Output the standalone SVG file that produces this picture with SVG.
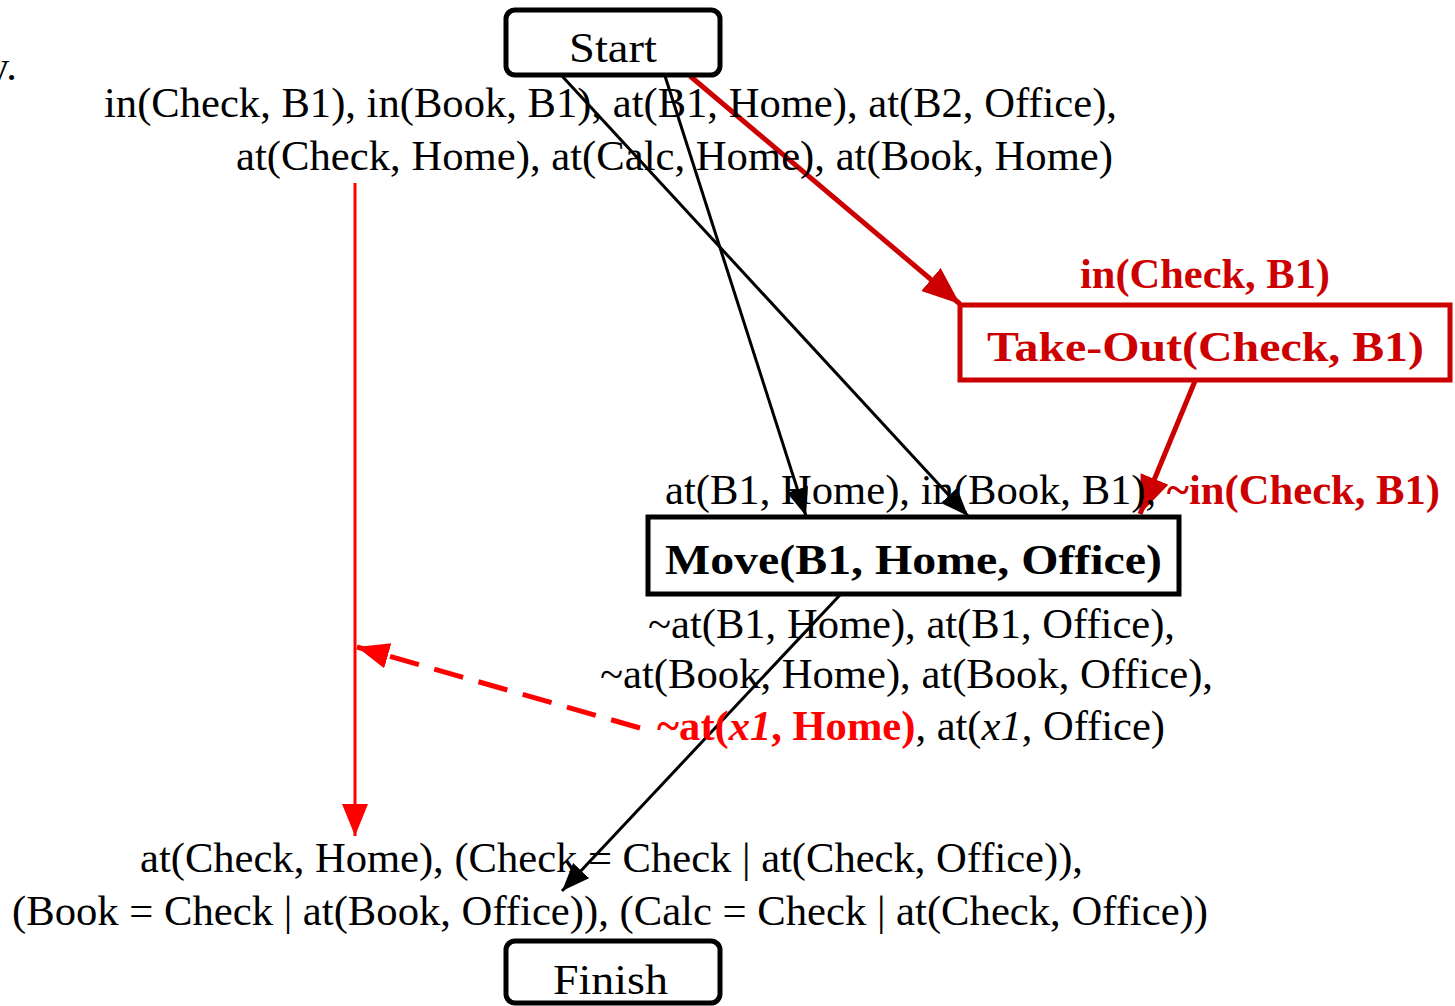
<svg xmlns="http://www.w3.org/2000/svg" width="1455" height="1006" viewBox="0 0 1455 1006">
<style>
text{font-family:"Liberation Serif","Times New Roman",serif;font-size:42.5px;fill:#000}
.b{font-weight:bold}
.dred{fill:#cc0000}
.red{fill:#ff0000}
.it{font-style:italic}
.node{fill:#fff;stroke-width:5}
</style>
<defs>
<marker id="ab" markerUnits="userSpaceOnUse" markerWidth="30" markerHeight="24" refX="28" refY="11" orient="auto"><path d="M0,0 L28,11 L0,22 z" fill="#000"/></marker>
<marker id="adr" markerUnits="userSpaceOnUse" markerWidth="40" markerHeight="32" refX="38" refY="15" orient="auto"><path d="M0,0 L38,15 L0,30 z" fill="#cc0000"/></marker>
<marker id="ar" markerUnits="userSpaceOnUse" markerWidth="34" markerHeight="28" refX="32" refY="13" orient="auto"><path d="M0,0 L32,13 L0,26 z" fill="#ff0000"/></marker>
</defs>
<rect width="1455" height="1006" fill="#fff"/>
<text x="17" y="80" text-anchor="end">y.</text>

<g id="connectors" fill="none">
<line x1="562" y1="76" x2="968" y2="516" stroke="#000" stroke-width="3" marker-end="url(#ab)"/>
<line x1="665" y1="76" x2="806" y2="516" stroke="#000" stroke-width="3" marker-end="url(#ab)"/>
<line x1="690" y1="76" x2="960" y2="304" stroke="#cc0000" stroke-width="5" marker-end="url(#adr)"/>
<line x1="1195" y1="381" x2="1140" y2="514" stroke="#cc0000" stroke-width="5" marker-end="url(#adr)"/>
<line x1="355" y1="183" x2="355" y2="836" stroke="#ff0000" stroke-width="3" marker-end="url(#ar)"/>
<line x1="640" y1="728" x2="357" y2="647" stroke="#ff0000" stroke-width="5" stroke-dasharray="30,16" marker-end="url(#ar)"/>
<line x1="840" y1="595" x2="562" y2="891" stroke="#000" stroke-width="3" marker-end="url(#ab)"/>
</g>

<g id="start">
<rect class="node" x="506" y="10" width="214" height="65" rx="9" stroke="#000"/>
<text x="569" y="62" font-size="53" textLength="88" lengthAdjust="spacingAndGlyphs">Start</text>
</g>
<g id="start-effects">
<text x="104" y="117" textLength="1013" lengthAdjust="spacingAndGlyphs">in(Check, B1), in(Book, B1), at(B1, Home), at(B2, Office),</text>
<text x="236" y="170" textLength="877" lengthAdjust="spacingAndGlyphs">at(Check, Home), at(Calc, Home), at(Book, Home)</text>
</g>

<g id="takeout">
<text class="b dred" x="1080" y="288" textLength="250" lengthAdjust="spacingAndGlyphs">in(Check, B1)</text>
<rect class="node" x="960" y="305" width="490" height="75" stroke="#cc0000"/>
<text class="b dred" x="987" y="361" font-size="54" textLength="437" lengthAdjust="spacingAndGlyphs">Take-Out(Check, B1)</text>
</g>

<g id="move">
<text x="665" y="504" textLength="775" lengthAdjust="spacingAndGlyphs">at(B1, Home), in(Book, B1), <tspan class="b dred">~in(Check, B1)</tspan></text>
<rect class="node" x="648" y="517" width="531" height="77" stroke="#000"/>
<text class="b" x="665" y="574" font-size="54" textLength="497" lengthAdjust="spacingAndGlyphs">Move(B1, Home, Office)</text>
<text x="648" y="638" textLength="527" lengthAdjust="spacingAndGlyphs">~at(B1, Home), at(B1, Office),</text>
<text x="600" y="688" textLength="613" lengthAdjust="spacingAndGlyphs">~at(Book, Home), at(Book, Office),</text>
<text x="657" y="740" textLength="508" lengthAdjust="spacingAndGlyphs"><tspan class="b red">~at(<tspan class="it">x1</tspan>, Home)</tspan>, at(<tspan class="it">x1</tspan>, Office)</text>
</g>

<g id="finish">
<text x="140" y="872" textLength="943" lengthAdjust="spacingAndGlyphs">at(Check, Home), (Check = Check | at(Check, Office)),</text>
<text x="12" y="925" textLength="1196" lengthAdjust="spacingAndGlyphs">(Book = Check | at(Book, Office)), (Calc = Check | at(Check, Office))</text>
<rect class="node" x="506" y="941" width="214" height="62" rx="9" stroke="#000"/>
<text x="553" y="994" font-size="53" textLength="115" lengthAdjust="spacingAndGlyphs">Finish</text>
</g>
</svg>
